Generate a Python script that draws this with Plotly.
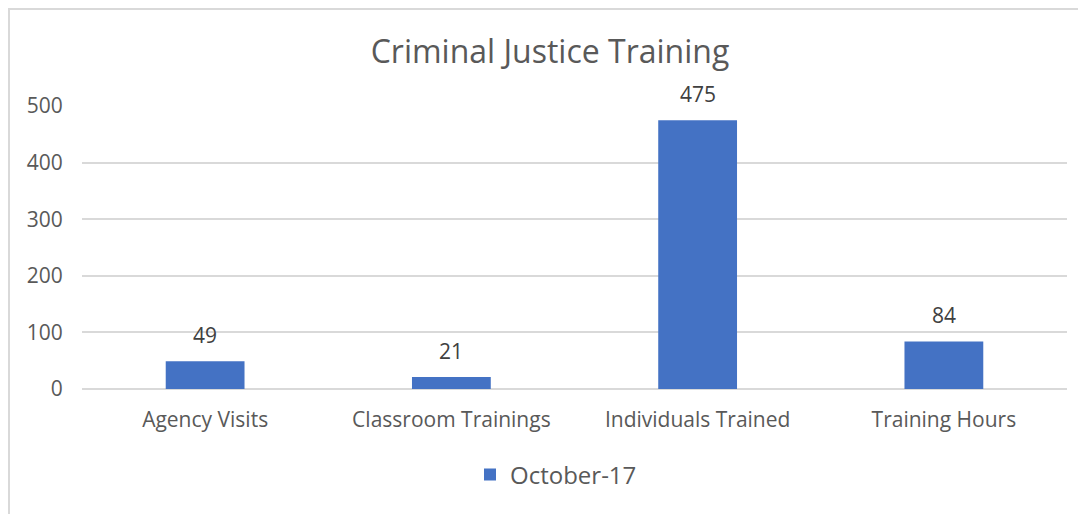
import plotly.graph_objects as go

categories = ["Agency Visits", "Classroom Trainings", "Individuals Trained", "Training Hours"]
values = [49, 21, 475, 84]
series_name = "October-17"
y_ticks = [0, 100, 200, 300, 400, 500]
title_text = "Criminal Justice Training"

FONT = "Open Sans"
BLUE = "#4472C4"
GRID = "#D9D9D9"
W, H = 1078, 506  # page body has an 8px default margin

fig = go.Figure()
fig.add_trace(go.Bar(
    x=categories, y=values, name=series_name,
    marker=dict(color=BLUE, line=dict(width=0)),
    showlegend=True,
))

for c, v in zip(categories, values):
    fig.add_annotation(x=c, y=v, text=str(v), showarrow=False, yanchor="bottom",
                       yshift=10, font=dict(family=FONT, size=21, color="#404040"))

fig.add_shape(type="rect", xref="paper", yref="paper",
              x0=-73 / 985, x1=1.2, y0=-1.0, y1=(381 - 1) / 283,
              line=dict(color=GRID, width=2), fillcolor="rgba(0,0,0,0)", layer="below")

fig.update_layout(
    width=W, height=H,
    margin=dict(l=74, r=19, t=98, b=125),
    paper_bgcolor="white", plot_bgcolor="white",
    title=dict(text=title_text, x=542 / W, xref="container", xanchor="center",
               y=1 - 44 / H, yref="container", yanchor="middle",
               font=dict(family=FONT, size=32, color="#595959")),
    bargap=0.68,
    showlegend=True,
    legend=dict(orientation="h", xref="container", yref="container",
                x=548 / W, xanchor="center", y=1 - 467 / H, yanchor="middle",
                font=dict(family=FONT, size=24, color="#595959"),
                itemsizing="constant"),
    xaxis=dict(showgrid=False, showline=False, ticks="outside", ticklen=12,
               tickcolor="rgba(0,0,0,0)",
               tickfont=dict(family=FONT, size=21, color="#595959")),
    yaxis=dict(range=[0, 500], tickvals=y_ticks, showgrid=True, gridcolor=GRID, gridwidth=1.5,
               zeroline=True, zerolinecolor=GRID, zerolinewidth=1.5,
               ticks="outside", ticklen=14, tickcolor="rgba(0,0,0,0)",
               tickfont=dict(family=FONT, size=21, color="#595959")),
)

fig.write_html("out.html")
